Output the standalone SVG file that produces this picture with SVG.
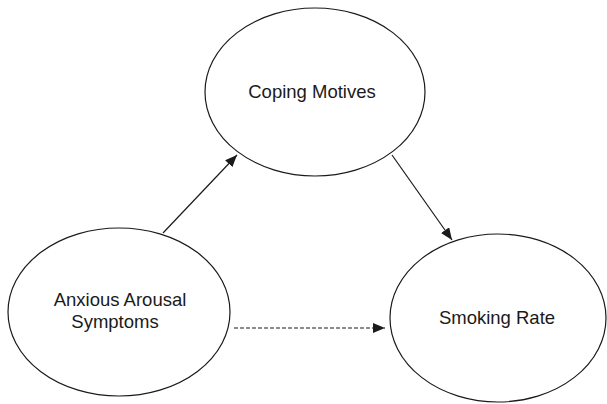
<svg xmlns="http://www.w3.org/2000/svg" width="607" height="404" viewBox="0 0 607 404">
<defs>
<marker id="ah" viewBox="0 0 12 10" refX="12" refY="5" markerWidth="12" markerHeight="10" markerUnits="userSpaceOnUse" orient="auto">
<path d="M0,0 L12,5 L0,10 Z" fill="#1a1a1a"/>
</marker>
<style>
.node ellipse{fill:#fff;stroke:#1a1a1a;stroke-width:1.2}
.node text{font-family:"Liberation Sans",Arial,sans-serif;font-size:18.5px;fill:#1a1a1a;text-anchor:middle}
.edge{stroke:#1a1a1a;stroke-width:1.2;fill:none;marker-end:url(#ah)}
</style>
</defs>
<rect width="607" height="404" fill="#fff"/>
<g id="coping">
<g class="node"><ellipse cx="315" cy="92" rx="110" ry="84"/><text x="312" y="98">Coping Motives</text></g>
</g>
<g id="anxious">
<g class="node"><ellipse cx="119" cy="312" rx="111" ry="84"/><text x="120" y="306">Anxious Arousal</text><text x="115" y="328">Symptoms</text></g>
</g>
<g id="smoking">
<g class="node"><ellipse cx="498" cy="318" rx="108" ry="84"/><text x="497" y="324">Smoking Rate</text></g>
</g>
<g id="connectors">
<line class="edge" x1="163" y1="233" x2="237" y2="155"/>
<line class="edge" x1="392" y1="155" x2="452" y2="240"/>
<line class="edge" x1="234" y1="328" x2="385" y2="328" stroke-dasharray="4 2"/>
</g>
</svg>
